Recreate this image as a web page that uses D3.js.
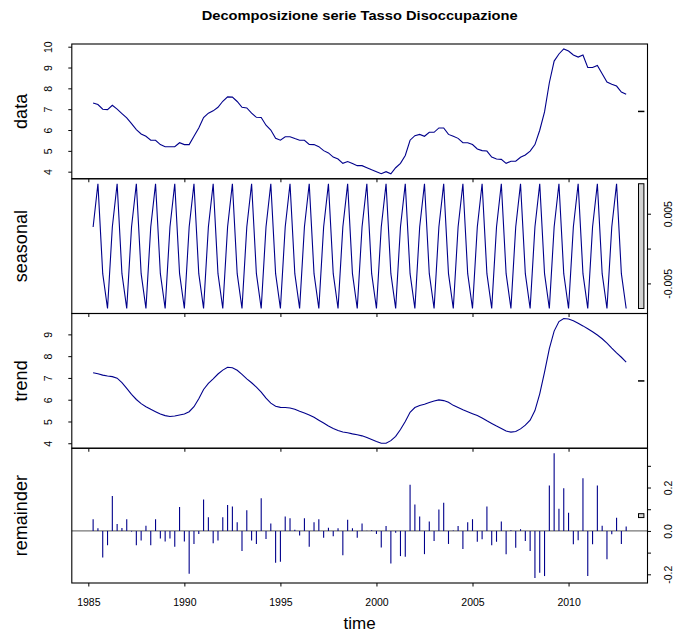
<!DOCTYPE html>
<html>
<head>
<meta charset="utf-8">
<script src="https://cdn.jsdelivr.net/npm/d3@7"></script>
<style>
  body { margin: 0; background: #fff; }
  svg { font-family: "Liberation Sans", Arial, sans-serif; }
</style>
</head>
<body>
<script>
// STL decomposition of a quarterly series, 1985 Q2 - 2013 Q1

var startTime = 1985.25, freq = 4;

var dataValues = [
  7.30, 7.22, 7.00, 6.98, 7.19, 7.00, 6.79, 6.58, 6.31, 6.02, 5.81, 5.70, 5.51, 5.51, 5.30, 5.20,
  5.20, 5.20, 5.39, 5.30, 5.30, 5.70, 6.10, 6.60, 6.81, 6.92, 7.09, 7.38, 7.59, 7.58, 7.37, 7.09,
  7.06, 6.81, 6.61, 6.60, 6.23, 6.00, 5.60, 5.51, 5.68, 5.68, 5.59, 5.51, 5.51, 5.31, 5.30, 5.20,
  5.01, 4.90, 4.70, 4.61, 4.40, 4.49, 4.39, 4.29, 4.29, 4.19, 4.09, 4.00, 3.90, 4.00, 3.90, 4.19,
  4.40, 4.78, 5.51, 5.73, 5.79, 5.70, 5.89, 5.89, 6.10, 6.10, 5.79, 5.70, 5.60, 5.39, 5.39, 5.30,
  5.09, 5.01, 4.99, 4.70, 4.61, 4.59, 4.40, 4.50, 4.50, 4.69, 4.80, 4.99, 5.30, 5.99, 6.87, 8.27,
  9.31, 9.65, 9.89, 9.79, 9.60, 9.50, 9.60, 9.00, 9.00, 9.10, 8.70, 8.30, 8.20, 8.11, 7.82, 7.72
];

var seasonalValues = [
  0.0031, 0.0093, -0.0036, -0.0086, 0.0031, 0.0093, -0.0036, -0.0086,
  0.0031, 0.0093, -0.0036, -0.0086, 0.0031, 0.0093, -0.0036, -0.0086,
  0.0031, 0.0093, -0.0036, -0.0086, 0.0031, 0.0093, -0.0036, -0.0086,
  0.0031, 0.0093, -0.0036, -0.0086, 0.0031, 0.0093, -0.0036, -0.0086,
  0.0031, 0.0093, -0.0036, -0.0086, 0.0031, 0.0093, -0.0036, -0.0086,
  0.0031, 0.0093, -0.0036, -0.0086, 0.0031, 0.0093, -0.0036, -0.0086,
  0.0031, 0.0093, -0.0036, -0.0086, 0.0031, 0.0093, -0.0036, -0.0086,
  0.0031, 0.0093, -0.0036, -0.0086, 0.0031, 0.0093, -0.0036, -0.0086,
  0.0031, 0.0093, -0.0036, -0.0086, 0.0031, 0.0093, -0.0036, -0.0086,
  0.0031, 0.0093, -0.0036, -0.0086, 0.0031, 0.0093, -0.0036, -0.0086,
  0.0031, 0.0093, -0.0036, -0.0086, 0.0031, 0.0093, -0.0036, -0.0086,
  0.0031, 0.0093, -0.0036, -0.0086, 0.0031, 0.0093, -0.0036, -0.0086,
  0.0031, 0.0093, -0.0036, -0.0086, 0.0031, 0.0093, -0.0036, -0.0086,
  0.0031, 0.0093, -0.0036, -0.0086, 0.0031, 0.0093, -0.0036, -0.0086
];

var trendValues = [
  7.24, 7.19, 7.13, 7.09, 7.06, 6.99, 6.78, 6.52, 6.25, 6.01, 5.82, 5.68, 5.56, 5.45, 5.34, 5.27,
  5.23, 5.25, 5.30, 5.34, 5.45, 5.68, 6.04, 6.47, 6.75, 6.96, 7.18, 7.36, 7.49, 7.47, 7.35, 7.16,
  6.96, 6.78, 6.58, 6.35, 6.07, 5.84, 5.70, 5.65, 5.64, 5.62, 5.56, 5.47, 5.39, 5.30, 5.19, 5.06,
  4.93, 4.79, 4.68, 4.59, 4.52, 4.48, 4.43, 4.39, 4.34, 4.26, 4.17, 4.08, 4.00, 4.00, 4.12, 4.32,
  4.63, 5.00, 5.42, 5.64, 5.73, 5.79, 5.87, 5.94, 5.99, 5.96, 5.88, 5.74, 5.64, 5.54, 5.45, 5.36,
  5.27, 5.16, 5.03, 4.91, 4.79, 4.68, 4.56, 4.51, 4.54, 4.66, 4.83, 5.06, 5.50, 6.27, 7.27, 8.35,
  9.15, 9.59, 9.73, 9.71, 9.63, 9.51, 9.39, 9.26, 9.12, 8.97, 8.80, 8.60, 8.37, 8.15, 7.95, 7.73
];

var remainderValues = [
  0.054, 0.012, -0.122, -0.066, 0.161, 0.032, 0.014, 0.054, -0.003, -0.066, -0.044, 0.024, -0.066, 0.054, -0.035, -0.049,
  -0.035, -0.073, 0.110, -0.049, -0.197, -0.060, -0.014, 0.145, 0.063, -0.057, -0.044, 0.063, 0.119, 0.113, 0.040, -0.092,
  0.095, -0.044, -0.060, 0.150, -0.037, 0.034, -0.147, -0.142, 0.067, 0.058, 0.005, -0.021, 0.058, -0.073, 0.040, 0.054,
  -0.031, 0.015, -0.024, 0.012, -0.112, 0.052, 0.012, -0.031, 0.034, 0.001, 0.003, -0.014, -0.076, 0.023, -0.150, -0.008,
  -0.116, -0.119, 0.213, 0.122, 0.067, -0.107, 0.044, -0.046, 0.099, 0.130, -0.060, 0.002, 0.023, -0.083, 0.040, 0.054,
  -0.050, -0.038, 0.112, -0.066, -0.050, 0.044, -0.107, 0.003, -0.078, 0.008, -0.046, -0.092, -0.217, -0.193, -0.208, 0.209,
  0.358, 0.102, 0.197, 0.084, -0.061, -0.043, 0.243, -0.208, -0.061, 0.209, 0.024, -0.131, -0.015, 0.061, -0.060, 0.020
];

var panelNames = ["data", "seasonal", "trend", "remainder"];
var xTicks = [1985, 1990, 1995, 2000, 2005, 2010];
var dataTicks = [4, 5, 6, 7, 8, 9, 10];
var seasonalTicks = [-0.005, 0, 0.005];
var seasonalLabels = ["-0.005", "", "0.005"];
var trendTicks = [4, 5, 6, 7, 8, 9];
var remainderTicks = [-0.2, -0.1, 0, 0.1, 0.2, 0.3];
var remainderLabels = ["-0.2", "", "0.0", "", "0.2", ""];

var title = "Decomposizione serie Tasso Disoccupazione";

// layout
var W = 674, H = 635;
var plotLeft = 71.8, plotRight = 647.5;
var plotTop = 44, plotBottom = 583;
var panelH = (plotBottom - plotTop) / 4;
var lineCol = "#00008B";
var tick = 3.5;
var font = "Liberation Sans, Arial, sans-serif";

var svg = d3.select("body").append("svg")
  .attr("width", W).attr("height", H);

var times = dataValues.map(function(d, i) { return startTime + i / freq; });

// R style 4% extension of the range
function ext(arr) {
  var e = d3.extent(arr), r = e[1] - e[0];
  return [e[0] - 0.04 * r, e[1] + 0.04 * r];
}

var xScale = d3.scaleLinear().domain(ext(times)).range([plotLeft, plotRight]);

var series = [dataValues, seasonalValues, trendValues, remainderValues];
var ticksList = [dataTicks, seasonalTicks, trendTicks, remainderTicks];
var labelsList = [dataTicks.map(String), seasonalLabels, trendTicks.map(String), remainderLabels];

// smallest range among components -> range bar height
var minRange = d3.min(series, function(s) { var e = d3.extent(s); return e[1] - e[0]; });

series.forEach(function(vals, p) {
  var top = plotTop + p * panelH, bottom = top + panelH;
  var yScale = d3.scaleLinear().domain(ext(vals)).range([bottom, top]);
  var g = svg.append("g");

  // x ticks under every panel
  var xAxis = d3.axisBottom(xScale).tickValues(xTicks).tickSize(tick).tickSizeOuter(0)
    .tickFormat(p === 3 ? d3.format("d") : "");
  var xg = g.append("g").attr("transform", "translate(0," + bottom + ")").call(xAxis);
  xg.select(".domain").remove();
  xg.selectAll("line").attr("stroke", "#000");
  xg.selectAll("text").attr("font-size", 10.5).attr("y", 19).attr("dy", "0.35em")
    .attr("font-family", font).attr("fill", "#000");

  // y axis: left for odd panels, right for even
  var left = (p % 2 === 0);
  var yAxis = (left ? d3.axisLeft(yScale) : d3.axisRight(yScale))
    .tickValues(ticksList[p]).tickSize(tick).tickSizeOuter(0)
    .tickFormat(function(d, i) { return labelsList[p][i]; });
  var yg = g.append("g")
    .attr("transform", "translate(" + (left ? plotLeft : plotRight) + ",0)")
    .call(yAxis);
  yg.select(".domain").remove();
  yg.selectAll("line").attr("stroke", "#000");
  yg.selectAll("text")
    .attr("x", null).attr("dy", null)
    .attr("font-size", 10.5).attr("fill", "#000")
    .attr("font-family", font)
    .attr("text-anchor", "middle")
    .attr("transform", left ? "translate(-20,0) rotate(-90)" : "translate(24,0) rotate(-90)");

  if (p === 3) {
    // zero line
    g.append("line")
      .attr("x1", plotLeft).attr("x2", plotRight)
      .attr("y1", yScale(0)).attr("y2", yScale(0))
      .attr("stroke", "#777").attr("stroke-width", 1.4);
    g.selectAll("line.bar").data(vals).enter().append("line")
      .attr("class", "bar")
      .attr("x1", function(d, i) { return xScale(times[i]); })
      .attr("x2", function(d, i) { return xScale(times[i]); })
      .attr("y1", yScale(0))
      .attr("y2", function(d) { return yScale(d); })
      .attr("stroke", lineCol).attr("stroke-width", 1.1);
  } else {
    var line = d3.line()
      .x(function(d, i) { return xScale(times[i]); })
      .y(function(d) { return yScale(d); });
    g.append("path").datum(vals).attr("d", line)
      .attr("fill", "none").attr("stroke", lineCol).attr("stroke-width", 1.1);
  }

  // range bar
  var dx = (xScale.domain()[1] - xScale.domain()[0]) / 64;
  var e = d3.extent(vals), mid = (e[0] + e[1]) / 2;
  var bx1 = xScale(xScale.domain()[1] - dx), bx2 = xScale(xScale.domain()[1] - 0.4 * dx);
  g.append("rect")
    .attr("x", bx1).attr("width", bx2 - bx1)
    .attr("y", yScale(mid + minRange / 2))
    .attr("height", Math.max(0.5, yScale(mid - minRange / 2) - yScale(mid + minRange / 2)))
    .attr("fill", "#d3d3d3").attr("stroke", "#000").attr("stroke-width", 1);

  // panel box
  g.append("rect")
    .attr("x", plotLeft).attr("y", top)
    .attr("width", plotRight - plotLeft).attr("height", panelH)
    .attr("fill", "none").attr("stroke", "#000").attr("stroke-width", 1.1);

  // panel label
  svg.append("text")
    .attr("transform", "translate(27," + (top + panelH / 2) + ") rotate(-90)")
    .attr("text-anchor", "middle")
    .attr("font-size", 18)
    .text(panelNames[p]);
});

svg.append("text")
  .attr("x", (plotLeft + plotRight) / 2).attr("y", 629)
  .attr("text-anchor", "middle").attr("font-size", 17)
  .text("time");

svg.append("text")
  .attr("x", (plotLeft + plotRight) / 2).attr("y", 19.5)
  .attr("text-anchor", "middle").attr("font-size", 12.5).attr("font-weight", "bold")
  .attr("textLength", 316).attr("lengthAdjust", "spacingAndGlyphs")
  .text(title);
</script>
</body>
</html>
